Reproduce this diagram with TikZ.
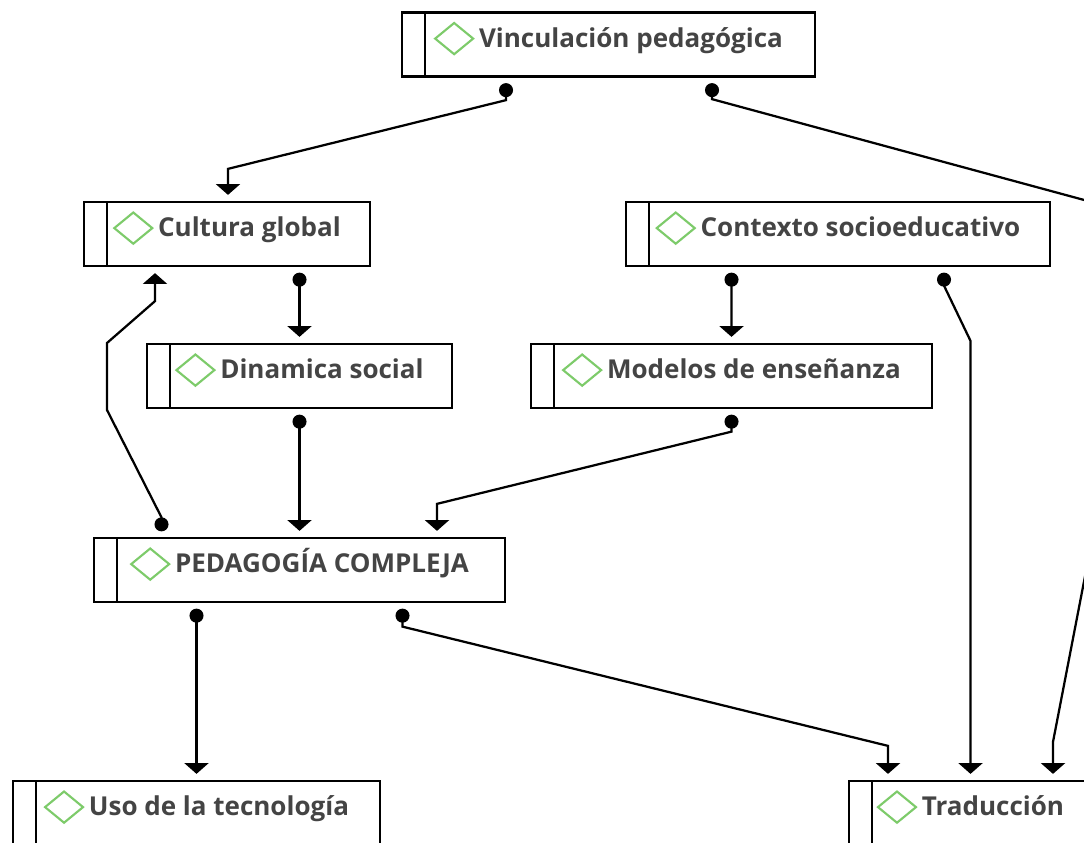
\documentclass[tikz,border=0pt]{standalone}
\usepackage{fontspec}
\setmainfont{Open Sans}
\usetikzlibrary{arrows.meta,calc}
\definecolor{textgray}{RGB}{68,68,68}
\definecolor{gemgreen}{RGB}{125,203,106}
\newcommand\gem{\tikz[x=1cm,y=1cm,baseline=-0.21cm]\draw[gemgreen,line width=1.5pt] (0,0) -- (0.475,0.39) -- (0.95,0) -- (0.475,-0.39) -- cycle;\hspace{0.12cm}}

\begin{document}
\begin{tikzpicture}[
  x=0.025cm, y=-0.025cm,
  unit/.style={
    draw=black,
    line width=1.6pt,
    fill=white,
    minimum width=#1,
    minimum height=1.6cm,
    text height=0.5cm,
    text depth=0.375cm,
    text=textgray,
    font=\fontsize{18.5pt}{22pt}\selectfont\bfseries,
    path picture={
      \draw[line width=1.6pt]
        ([xshift=0.575cm]path picture bounding box.north west) --
        ([xshift=0.575cm]path picture bounding box.south west);
    }
  },
  link/.style={
    draw=black,
    line width=1.6pt,
    arrows={Circle[length=0.35cm]-Triangle[width=0.6cm,length=0.27cm]}
  }
]

\useasboundingbox (0,0) rectangle (1084,842);
\clip (0,0) rectangle (1084,842);

% Top
\node[unit=10.325cm] (vinc) at (608.5,44.5) {\gem Vinculación pedagógica};

% Second row
\node[unit=7.15cm] (cult) at (227,234) {\gem Cultura global};
\node[unit=10.6cm] (ctx) at (838,234) {\gem Contexto socioeducativo};

% Third row
\node[unit=7.625cm] (din) at (299.5,376) {\gem Dinamica social};
\node[unit=10.025cm] (mod) at (731.5,376) {\gem Modelos de enseñanza};

% Centre
\node[unit=10.275cm] (ped) at (299.5,570) {\gem PEDAGOGÍA COMPLEJA};

% Bottom row (cut by the page edge)
\node[unit=9.175cm] (uso) at (196.5,813) {\gem Uso de la tecnología};
\node[unit=6.075cm] (trad) at (970.5,813) {\gem Traducción};

% Links from the top
\draw[link] ($(vinc.south)+(-102.5,5.5)$) -- ++(0,17)
  -- ($(cult.north)+(1,-32)$) -- ($(cult.north)+(1,-6)$);
\draw[link] ($(vinc.south)+(103.5,5.5)$) -- ++(0,16)
  -- (1110,207) -- (1110,447)
  -- ($(trad.north)+(82.5,-38)$) -- ($(trad.north)+(82.5,-6)$);

% Links from the second row
\draw[link] ($(cult.south)+(72.5,5.5)$) -- ($(din.north)+(0,-6)$);
\draw[link] ($(ctx.south)+(-106.5,5.5)$) -- ($(mod.north)+(0,-6)$);
\draw[link] ($(ctx.south)+(106,5.5)$) -- ++(0,13)
  -- ($(trad.north)+(0,-439)$) -- ($(trad.north)+(0,-6)$);

% Links into PEDAGOGIA COMPLEJA
\draw[link] ($(din.south)+(0,5.5)$) -- ($(ped.north)+(0,-6)$);
\draw[link] ($(mod.south)+(0,5.5)$) -- ++(0,17)
  -- ($(ped.north)+(137.5,-33)$) -- ($(ped.north)+(137.5,-6)$);

% Back link to Cultura global
\draw[link] ($(ped.north)+(-138,-5.5)$) -- ++(0,-14)
  -- (107,410) -- (107,343)
  -- ($(cult.south)+(-72,34)$) -- ($(cult.south)+(-72,6)$);

% Links from PEDAGOGIA COMPLEJA
\draw[link] ($(ped.south)+(-103,5.5)$) -- ($(uso.north)+(0,-6)$);
\draw[link] ($(ped.south)+(103,5.5)$) -- ++(0,18)
  -- ($(trad.north)+(-82.5,-34)$) -- ($(trad.north)+(-82.5,-6)$);

\end{tikzpicture}
\end{document}
